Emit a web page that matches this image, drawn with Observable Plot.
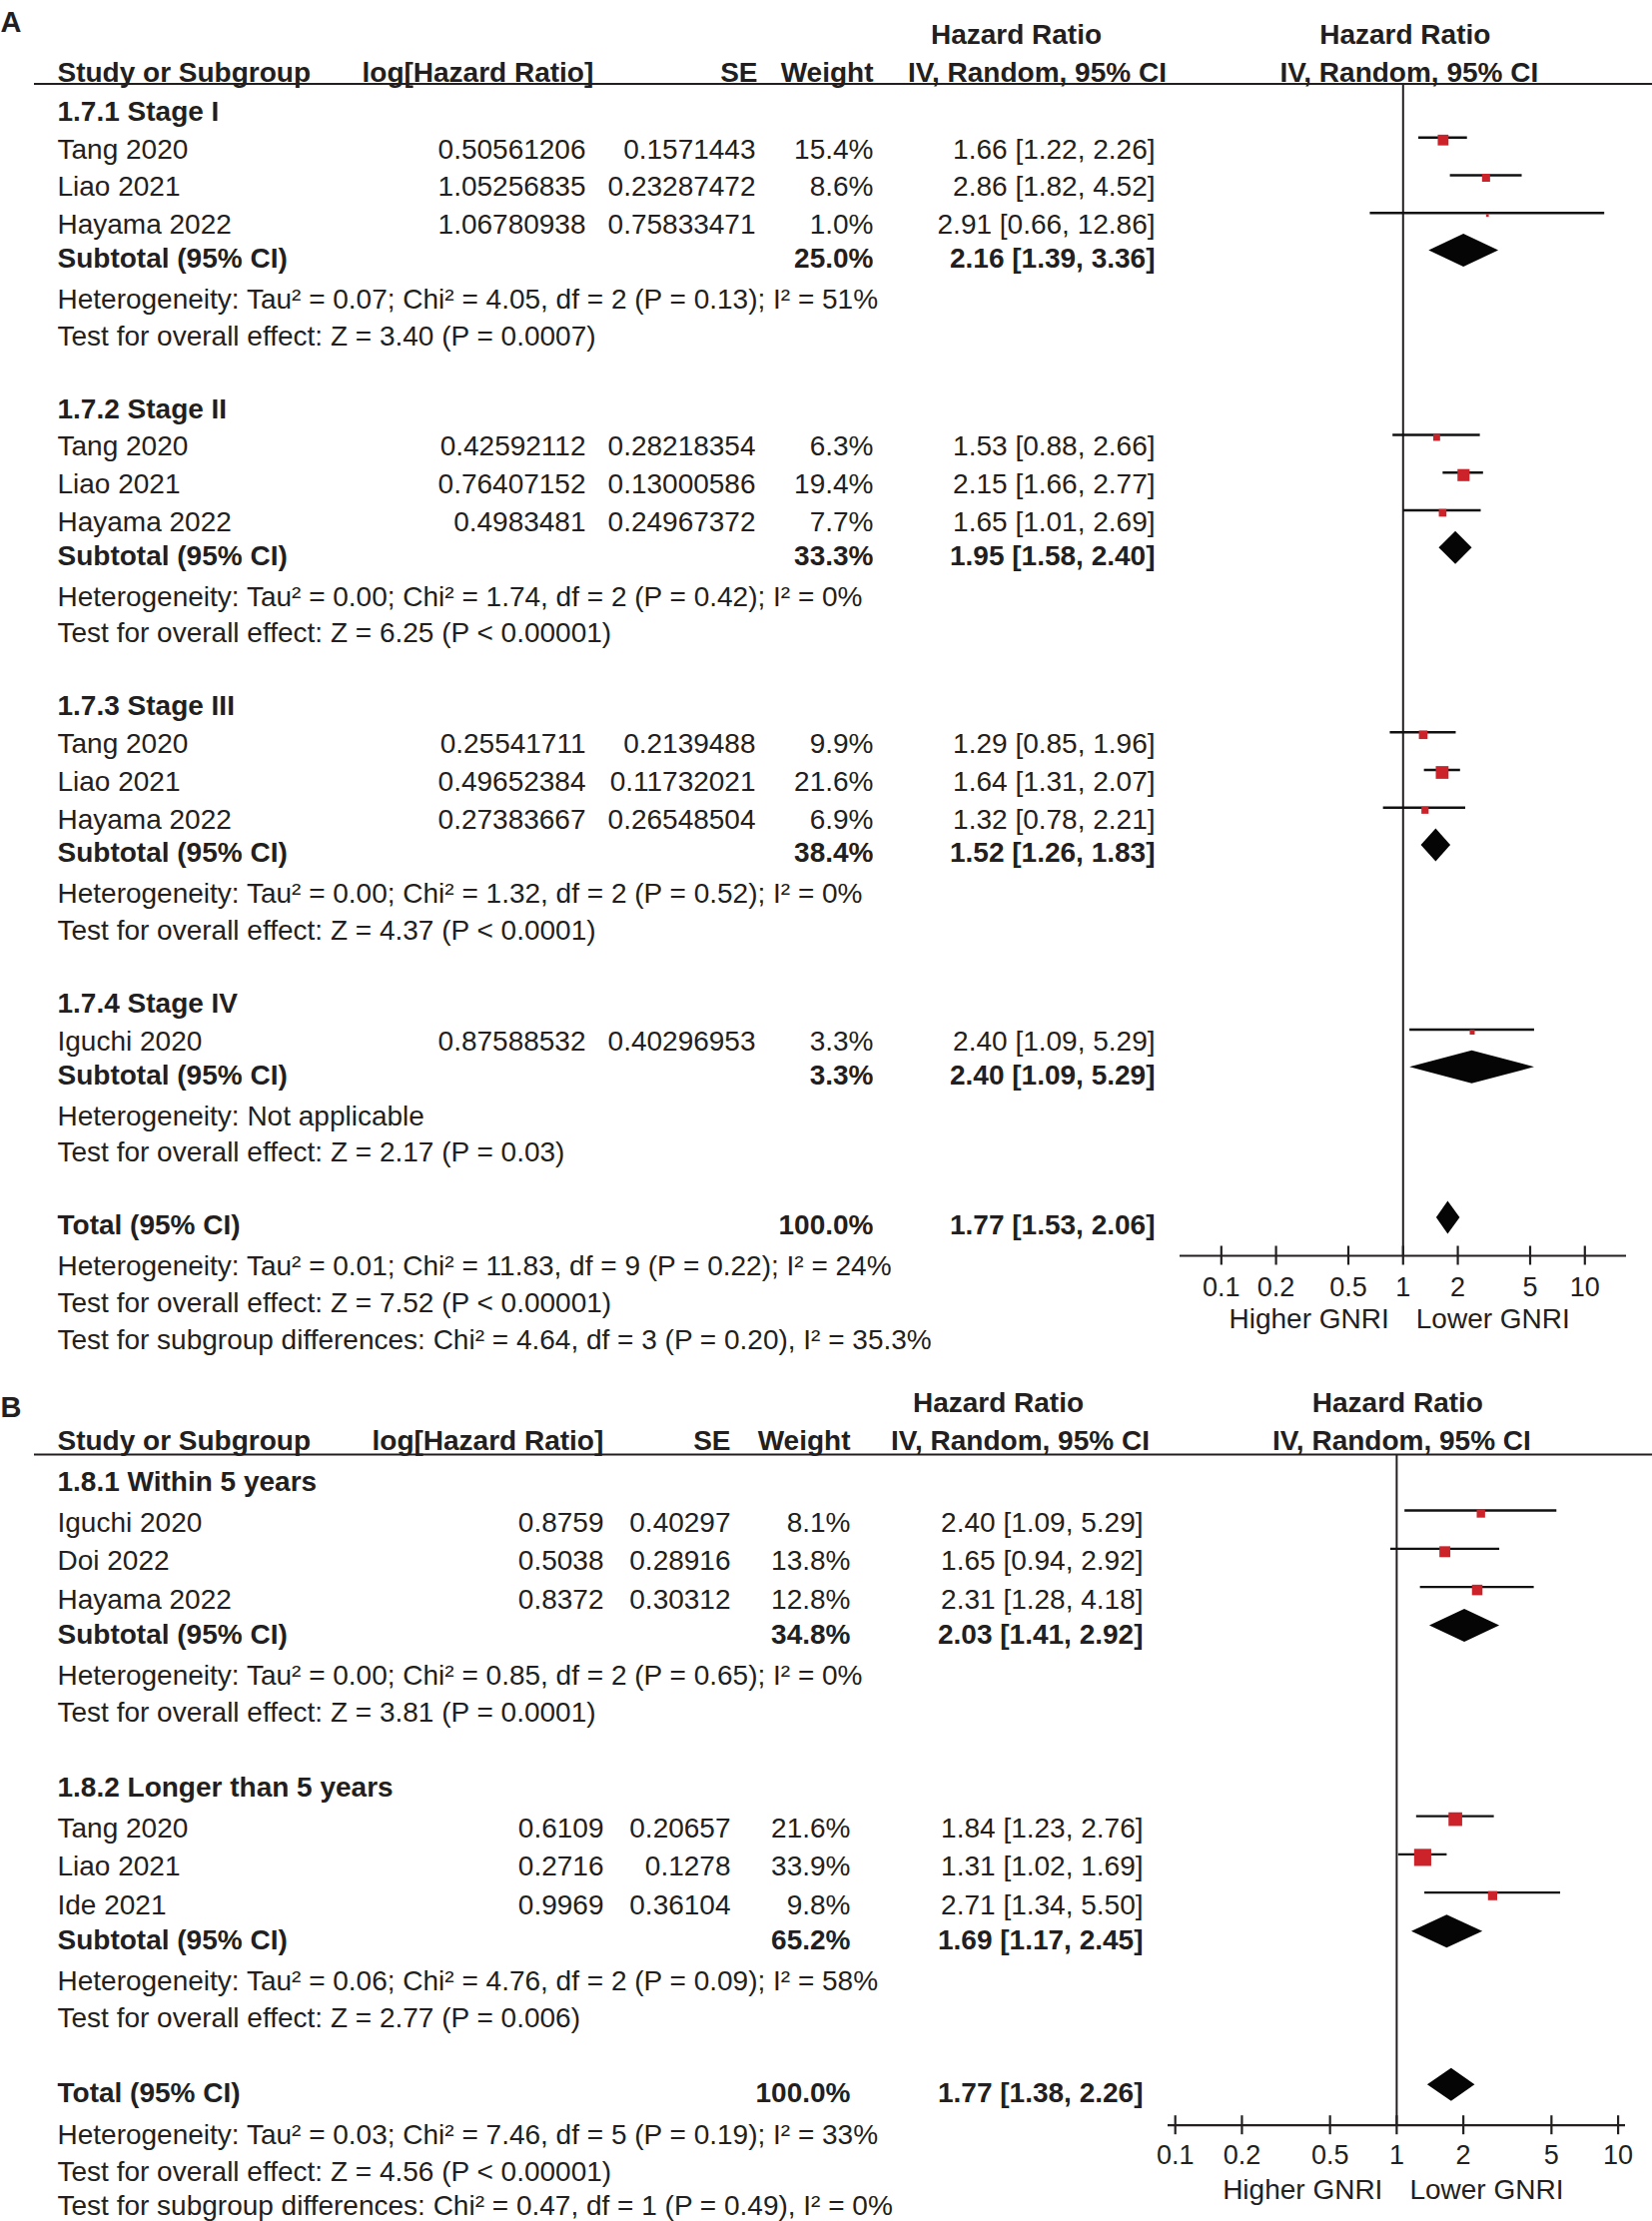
<!DOCTYPE html>
<html><head><meta charset="utf-8">
<script src="https://cdn.jsdelivr.net/npm/d3@7"></script>
<script src="https://cdn.jsdelivr.net/npm/@observablehq/plot@0.6"></script>
<style>
html,body{margin:0;padding:0;background:#fff;}
#chart{width:1654px;}
#chart svg{display:block;overflow:hidden;}
</style></head><body><div id="chart"></div>
<script>
// ================= Panel A : tumour stage subgroups =================
const groupsA = ["1.7.1 Stage I", "1.7.2 Stage II", "1.7.3 Stage III", "1.7.4 Stage IV"];
const groupOfA = [0, 0, 0, 1, 1, 1, 2, 2, 2, 3];
const studiesA = ["Tang 2020", "Liao 2021", "Hayama 2022", "Tang 2020", "Liao 2021", "Hayama 2022", "Tang 2020", "Liao 2021", "Hayama 2022", "Iguchi 2020"];
const logHRA = ["0.50561206", "1.05256835", "1.06780938", "0.42592112", "0.76407152", "0.4983481", "0.25541711", "0.49652384", "0.27383667", "0.87588532"];
const seA = ["0.1571443", "0.23287472", "0.75833471", "0.28218354", "0.13000586", "0.24967372", "0.2139488", "0.11732021", "0.26548504", "0.40296953"];
const weightA = [15.4, 8.6, 1.0, 6.3, 19.4, 7.7, 9.9, 21.6, 6.9, 3.3];
const hrA = [1.66, 2.86, 2.91, 1.53, 2.15, 1.65, 1.29, 1.64, 1.32, 2.40];
const loA = [1.22, 1.82, 0.66, 0.88, 1.66, 1.01, 0.85, 1.31, 0.78, 1.09];
const hiA = [2.26, 4.52, 12.86, 2.66, 2.77, 2.69, 1.96, 2.07, 2.21, 5.29];
const subWeightA = [25.0, 33.3, 38.4, 3.3];
const subHRA = [2.16, 1.95, 1.52, 2.40];
const subLoA = [1.39, 1.58, 1.26, 1.09];
const subHiA = [3.36, 2.40, 1.83, 5.29];
const hetA = [
  "Heterogeneity: Tau² = 0.07; Chi² = 4.05, df = 2 (P = 0.13); I² = 51%",
  "Heterogeneity: Tau² = 0.00; Chi² = 1.74, df = 2 (P = 0.42); I² = 0%",
  "Heterogeneity: Tau² = 0.00; Chi² = 1.32, df = 2 (P = 0.52); I² = 0%",
  "Heterogeneity: Not applicable"];
const testA = [
  "Test for overall effect: Z = 3.40 (P = 0.0007)",
  "Test for overall effect: Z = 6.25 (P < 0.00001)",
  "Test for overall effect: Z = 4.37 (P < 0.0001)",
  "Test for overall effect: Z = 2.17 (P = 0.03)"];
const totalA = [1.77, 1.53, 2.06];
const totalNotesA = [
  "Heterogeneity: Tau² = 0.01; Chi² = 11.83, df = 9 (P = 0.22); I² = 24%",
  "Test for overall effect: Z = 7.52 (P < 0.00001)",
  "Test for subgroup differences: Chi² = 4.64, df = 3 (P = 0.20), I² = 35.3%"];

// ================= Panel B : follow-up subgroups =================
const groupsB = ["1.8.1 Within 5 years", "1.8.2 Longer than 5 years"];
const groupOfB = [0, 0, 0, 1, 1, 1];
const studiesB = ["Iguchi 2020", "Doi 2022", "Hayama 2022", "Tang 2020", "Liao 2021", "Ide 2021"];
const logHRB = ["0.8759", "0.5038", "0.8372", "0.6109", "0.2716", "0.9969"];
const seB = ["0.40297", "0.28916", "0.30312", "0.20657", "0.1278", "0.36104"];
const weightB = [8.1, 13.8, 12.8, 21.6, 33.9, 9.8];
const hrB = [2.40, 1.65, 2.31, 1.84, 1.31, 2.71];
const loB = [1.09, 0.94, 1.28, 1.23, 1.02, 1.34];
const hiB = [5.29, 2.92, 4.18, 2.76, 1.69, 5.50];
const subWeightB = [34.8, 65.2];
const subHRB = [2.03, 1.69];
const subLoB = [1.41, 1.17];
const subHiB = [2.92, 2.45];
const hetB = [
  "Heterogeneity: Tau² = 0.00; Chi² = 0.85, df = 2 (P = 0.65); I² = 0%",
  "Heterogeneity: Tau² = 0.06; Chi² = 4.76, df = 2 (P = 0.09); I² = 58%"];
const testB = [
  "Test for overall effect: Z = 3.81 (P = 0.0001)",
  "Test for overall effect: Z = 2.77 (P = 0.006)"];
const totalB = [1.77, 1.38, 2.26];
const totalNotesB = [
  "Heterogeneity: Tau² = 0.03; Chi² = 7.46, df = 5 (P = 0.19); I² = 33%",
  "Test for overall effect: Z = 4.56 (P < 0.00001)",
  "Test for subgroup differences: Chi² = 0.47, df = 1 (P = 0.49), I² = 0%"];

// ================= shared labels =================
const tickValues = [0.1, 0.2, 0.5, 1, 2, 5, 10];
const tickLabels = ["0.1", "0.2", "0.5", "1", "2", "5", "10"];
const favours = ["Higher GNRI", "Lower GNRI"];
const headerCols = ["Study or Subgroup", "log[Hazard Ratio]", "SE", "Weight", "IV, Random, 95% CI"];
const headerTop = "Hazard Ratio";
const subtotalLabel = "Subtotal (95% CI)";
const totalLabel = "Total (95% CI)";

const FONT = "'Liberation Sans', Arial, Helvetica, sans-serif";
const INK = "#231f20";
const RED = "#cc2229";

const fmtCI = (h, l, u) => `${h.toFixed(2)} [${l.toFixed(2)}, ${u.toFixed(2)}]`;
const fmtW = w => w.toFixed(1) + "%";

// row layout (cap-top pixel positions) from row order and spacing
function layout(p, groupOf, nGroups) {
  const o = {groupY: [], studyY: [], subY: [], hetY: [], testY: []};
  let y = p.top;
  for (let g = 0; g < nGroups; g++) {
    o.groupY.push(y);
    y += p.g2s;
    let first = true;
    groupOf.forEach((gg, i) => {
      if (gg !== g) return;
      if (!first) y += p.s2s;
      first = false;
      o.studyY[i] = y;
    });
    y += p.s2sub; o.subY.push(y);
    y += p.sub2het; o.hetY.push(y);
    y += p.het2test; o.testY.push(y);
    y += p.test2next;
  }
  o.totalY = y;
  y += p.sub2het; o.totHetY = y;
  y += p.het2test; o.totTestY = y;
  y += p.test2sg; o.sgY = y;
  return o;
}

function panel(d, p) {
  const L = layout(p, d.groupOf, d.groups.length);
  const T = 11;
  const studies = d.names.map((name, i) => ({
    name, logHR: d.logHR[i], se: d.se[i], w: d.weight[i],
    hr: d.hr[i], lo: d.lo[i], hi: d.hi[i], top: L.studyY[i]
  }));
  const summaries = d.groups.map((g, k) => ({
    label: subtotalLabel, w: d.subWeight[k], hr: d.subHR[k], lo: d.subLo[k], hi: d.subHi[k], top: L.subY[k]
  }));
  summaries.push({label: totalLabel, w: 100, hr: d.total[0], lo: d.total[1], hi: d.total[2], top: L.totalY});
  const groupRows = d.groups.map((g, k) => ({text: g, top: L.groupY[k]}));
  const notes = [
    ...d.het.map((t, k) => ({text: t, top: L.hetY[k]})),
    ...d.test.map((t, k) => ({text: t, top: L.testY[k]})),
    {text: d.totalNotes[0], top: L.totHetY},
    {text: d.totalNotes[1], top: L.totTestY},
    {text: d.totalNotes[2], top: L.sgY}
  ];
  const diamonds = summaries.flatMap((s, k) => {
    const c = s.top + p.diaOff;
    return [
      {id: k, y: c - p.diaH, x1: s.hr, x2: s.hr},
      {id: k, y: c, x1: s.lo, x2: s.hi},
      {id: k, y: c + p.diaH, x1: s.hr, x2: s.hr}
    ];
  });
  const base = {fontFamily: FONT, fontSize: 28, fill: INK, lineAnchor: "middle"};
  const bold = {...base, fontWeight: "bold"};
  const ty = r => r.top + T;
  const C = p.cols;
  const left = (data, o) => Plot.text(data, {frameAnchor: "left", ...o});

  return Plot.plot({
    width: 1654, height: p.height, margin: 0,
    x: {type: "log", domain: p.xDomain, range: p.xRange, axis: null},
    y: {type: "linear", domain: [0, p.height], range: [0, p.height], axis: null},
    r: {type: "sqrt", domain: [0, 100], range: [0, p.rMax]},
    style: {background: "#fff", overflow: "hidden", fontFamily: FONT},
    marks: [
      // panel letter
      left([d.letter], {y: p.letterY, dx: 0, textAnchor: "start", ...bold, fontSize: 29}),
      // headers
      Plot.text([headerTop], {x: 1, y: p.hdr1, dx: p.fHdr1, textAnchor: "middle", ...bold}),
      Plot.text([headerCols[4]], {x: 1, y: p.hdr2, dx: p.fHdr2, textAnchor: "middle", ...bold}),
      left([headerTop], {y: p.hdr1, dx: C.hHR, textAnchor: "middle", ...bold}),
      left([headerCols[4]], {y: p.hdr2, dx: C.hCI, textAnchor: "middle", ...bold}),
      left([headerCols[0]], {y: p.hdr2, dx: C.label, textAnchor: "start", ...bold}),
      left([headerCols[1]], {y: p.hdr2, dx: C.hLog, textAnchor: "start", ...bold}),
      left([headerCols[2]], {y: p.hdr2, dx: C.hSE, textAnchor: "end", ...bold}),
      left([headerCols[3]], {y: p.hdr2, dx: C.hW, textAnchor: "end", ...bold}),
      Plot.ruleY([p.underline], {stroke: INK, strokeWidth: 2, insetLeft: C.lineStart}),
      // null line at HR = 1
      Plot.ruleX([1], {y1: p.underline, y2: p.axisY, stroke: INK, strokeWidth: 2}),
      // group titles and summary labels
      left(groupRows, {y: ty, text: "text", dx: C.label, textAnchor: "start", ...bold}),
      left(summaries, {y: ty, text: "label", dx: C.label, textAnchor: "start", ...bold}),
      left(notes, {y: ty, text: "text", dx: C.label, textAnchor: "start", ...base}),
      // study rows
      left(studies, {y: ty, text: "name", dx: C.label, textAnchor: "start", ...base}),
      left(studies, {y: ty, text: "logHR", dx: C.log, textAnchor: "end", ...base}),
      left(studies, {y: ty, text: "se", dx: C.se, textAnchor: "end", ...base}),
      left(studies, {y: ty, text: s => fmtW(s.w), dx: C.w, textAnchor: "end", ...base}),
      left(studies, {y: ty, text: s => fmtCI(s.hr, s.lo, s.hi), dx: C.ci, textAnchor: "end", ...base}),
      left(summaries, {y: ty, text: s => fmtW(s.w), dx: C.w, textAnchor: "end", ...bold}),
      left(summaries, {y: ty, text: s => fmtCI(s.hr, s.lo, s.hi), dx: C.ci, textAnchor: "end", ...bold}),
      // forest marks
      Plot.ruleY(studies, {y: s => s.top + p.lineOff, x1: "lo", x2: "hi", stroke: "#111", strokeWidth: 2.3}),
      Plot.dot(studies, {x: "hr", y: s => s.top + p.sqOff, r: "w", symbol: "square", fill: RED}),
      Plot.areaX(diamonds, {y: "y", x1: "x1", x2: "x2", z: "id", fill: "#050505", curve: "linear"}),
      // axis
      Plot.ruleY([p.axisY], {x1: p.xDomain[0], x2: p.xDomain[1], stroke: INK, strokeWidth: 2.2}),
      Plot.ruleX(tickValues, {x: v => v, y1: p.axisY - 9.5, y2: p.axisY + 9.5, stroke: INK, strokeWidth: 2.2}),
      Plot.text(tickValues, {x: v => v, y: p.tickLabY, text: (v, i) => tickLabels[i], ...base, fontSize: 27, textAnchor: "middle"}),
      Plot.text([favours[0]], {x: 1, y: p.favY, dx: -14, textAnchor: "end", ...base}),
      Plot.text([favours[1]], {x: 1, y: p.favY, dx: 13, textAnchor: "start", ...base})
    ]
  });
}

const chart = document.getElementById("chart");

chart.appendChild(panel({
  letter: "A", groups: groupsA, groupOf: groupOfA, names: studiesA, logHR: logHRA, se: seA,
  weight: weightA, hr: hrA, lo: loA, hi: hiA, subWeight: subWeightA, subHR: subHRA, subLo: subLoA, subHi: subHiA,
  het: hetA, test: testA, total: totalA, totalNotes: totalNotesA
}, {
  height: 1359, top: 100.5, g2s: 37.75, s2s: 37.75, s2sub: 33.75, sub2het: 41, het2test: 36.75, test2next: 73, test2sg: 36.75,
  lineOff: -1, sqOff: 1.5, diaOff: 3, diaH: 16.5, rMax: 15.5,
  xDomain: [0.0593, 16.95], xRange: [1181, 1628],
  letterY: 22, hdr1: 35, hdr2: 73, underline: 83.5, axisY: 1257, tickLabY: 1289, favY: 1321,
  fHdr1: 2, fHdr2: 6,
  cols: {label: 57, log: 586, se: 756, w: 874, ci: 1156, hLog: 362, hSE: 758, hW: 874, hHR: 1017, hCI: 1038, lineStart: 34}
}));

chart.appendChild(panel({
  letter: "B", groups: groupsB, groupOf: groupOfB, names: studiesB, logHR: logHRB, se: seB,
  weight: weightB, hr: hrB, lo: loB, hi: hiB, subWeight: subWeightB, subHR: subHRB, subLo: subLoB, subHi: subHiB,
  het: hetB, test: testB, total: totalB, totalNotes: totalNotesB
}, {
  height: 865, top: 113.5, g2s: 41, s2s: 38.3, s2sub: 35, sub2het: 41.5, het2test: 37, test2next: 75, test2sg: 34,
  lineOff: -1.5, sqOff: 1.5, diaOff: 2.5, diaH: 16.5, rMax: 16.6,
  xDomain: [0.0928, 10.8], xRange: [1169, 1627],
  letterY: 50, hdr1: 46, hdr2: 84, underline: 97, axisY: 768.7, tickLabY: 799, favY: 834,
  fHdr1: 1, fHdr2: 5,
  cols: {label: 57, log: 604, se: 731, w: 851, ci: 1144, hLog: 372, hSE: 731, hW: 851, hHR: 999, hCI: 1021, lineStart: 34}
}));
</script>
</body></html>
